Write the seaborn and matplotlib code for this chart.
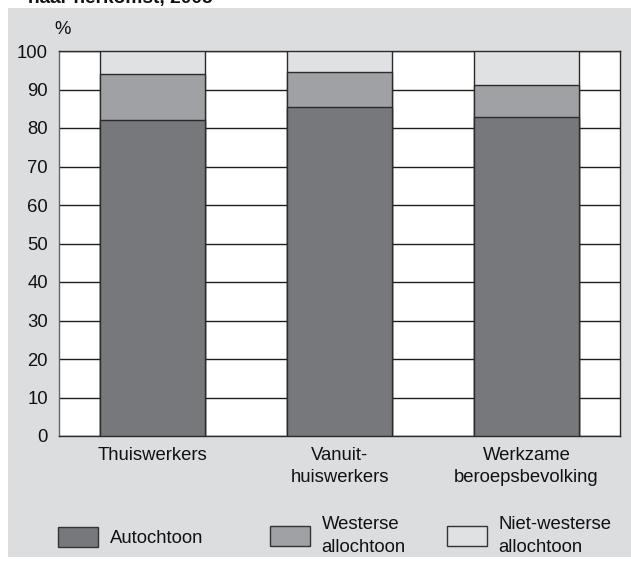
"""
Thuiswerkers, vanuithuiswerkers en werkzame beroepsbevolking naar herkomst, 2005
"""
import pandas as pd
import matplotlib.pyplot as plt
import seaborn as sns
from matplotlib.patches import Patch, Rectangle

# data (percent)
categories = ["Thuiswerkers", "Vanuit-\nhuiswerkers", "Werkzame\nberoepsbevolking"]
autochtoon = [82.0, 85.5, 82.8]
westers = [11.9, 9.0, 8.3]
niet_westers = [6.1, 5.5, 8.9]
series_labels = ["Autochtoon", "Westerse\nallochtoon", "Niet-westerse\nallochtoon"]
yticks = [0, 10, 20, 30, 40, 50, 60, 70, 80, 90, 100]

colors = ["#77787c", "#a0a1a4", "#e0e1e3"]
bg = "#dcdddf"
edge = "#2b2b2b"
fs = 13.3

sns.set_theme(style="white")
plt.rcParams["font.family"] = ["Liberation Sans", "DejaVu Sans"]

df = pd.DataFrame({
    "cat": categories,
    "a": autochtoon,
    "w": westers,
    "n": niet_westers,
})
df["top1"] = df["a"]
df["top2"] = df["a"] + df["w"]
df["top3"] = df["a"] + df["w"] + df["n"]

fig = plt.figure(figsize=(6.31, 5.62), dpi=100)
fig.patches.append(Rectangle((8 / 631, 5 / 562), 1 - 8 / 631, 1 - 13 / 562,
                             transform=fig.transFigure, facecolor=bg,
                             edgecolor="none", zorder=-10))
fig.text(28 / 631, 1 - 2.5 / 562, "naar herkomst, 2005", fontsize=13.8,
         fontweight="bold", ha="left", va="baseline", color="#111111")

ax = fig.add_axes([59 / 631, 1 - 436 / 562, 561 / 631, 385 / 562])
ax.set_facecolor("white")

# stacked bars: draw cumulative totals back to front
for col, c in zip(["top3", "top2", "top1"], colors[::-1]):
    sns.barplot(data=df, x="cat", y=col, color=c, width=0.56,
                edgecolor=edge, linewidth=1.0, saturation=1, ax=ax, zorder=3)

ax.set_ylim(0, 100)
ax.set_xlim(-0.5, 2.5)
ax.set_yticks(yticks)
ax.set_yticklabels([str(t) for t in yticks])
ax.set_xlabel("")
ax.set_ylabel("")
ax.grid(axis="y", color="#1e1e1e", linewidth=1.0)
ax.set_axisbelow(True)
ax.tick_params(axis="y", length=0, pad=8, labelsize=fs, labelcolor="#111111")
ax.tick_params(axis="x", length=0, pad=8, labelsize=fs, labelcolor="#111111")
for t in ax.get_xticklabels():
    t.set_linespacing(1.4)
for s in ax.spines.values():
    s.set_color(edge)
    s.set_linewidth(1.0)
ax.spines["left"].set_color("#666666")

fig.text(63 / 631, 1 - 29 / 562, "%", fontsize=fs, ha="center", va="center",
         color="#111111")

# legend entries placed one by one
legend_x = [58 / 631, 270 / 631, 447 / 631]
legend_y = [537, 536, 536]
for lab, c, x, y in zip(series_labels, colors, legend_x, legend_y):
    h = Patch(facecolor=c, edgecolor="#333333", linewidth=1.0)
    leg = fig.legend(handles=[h], labels=[lab], loc="center left",
                     bbox_to_anchor=(x, 1 - y / 562), frameon=False,
                     fontsize=fs, handlelength=2.15, handleheight=1.27,
                     handletextpad=0.65, borderpad=0, borderaxespad=0,
                     labelcolor="#111111")
    for t in leg.get_texts():
        t.set_linespacing(1.4)

fig.savefig("out.png", dpi=100)
